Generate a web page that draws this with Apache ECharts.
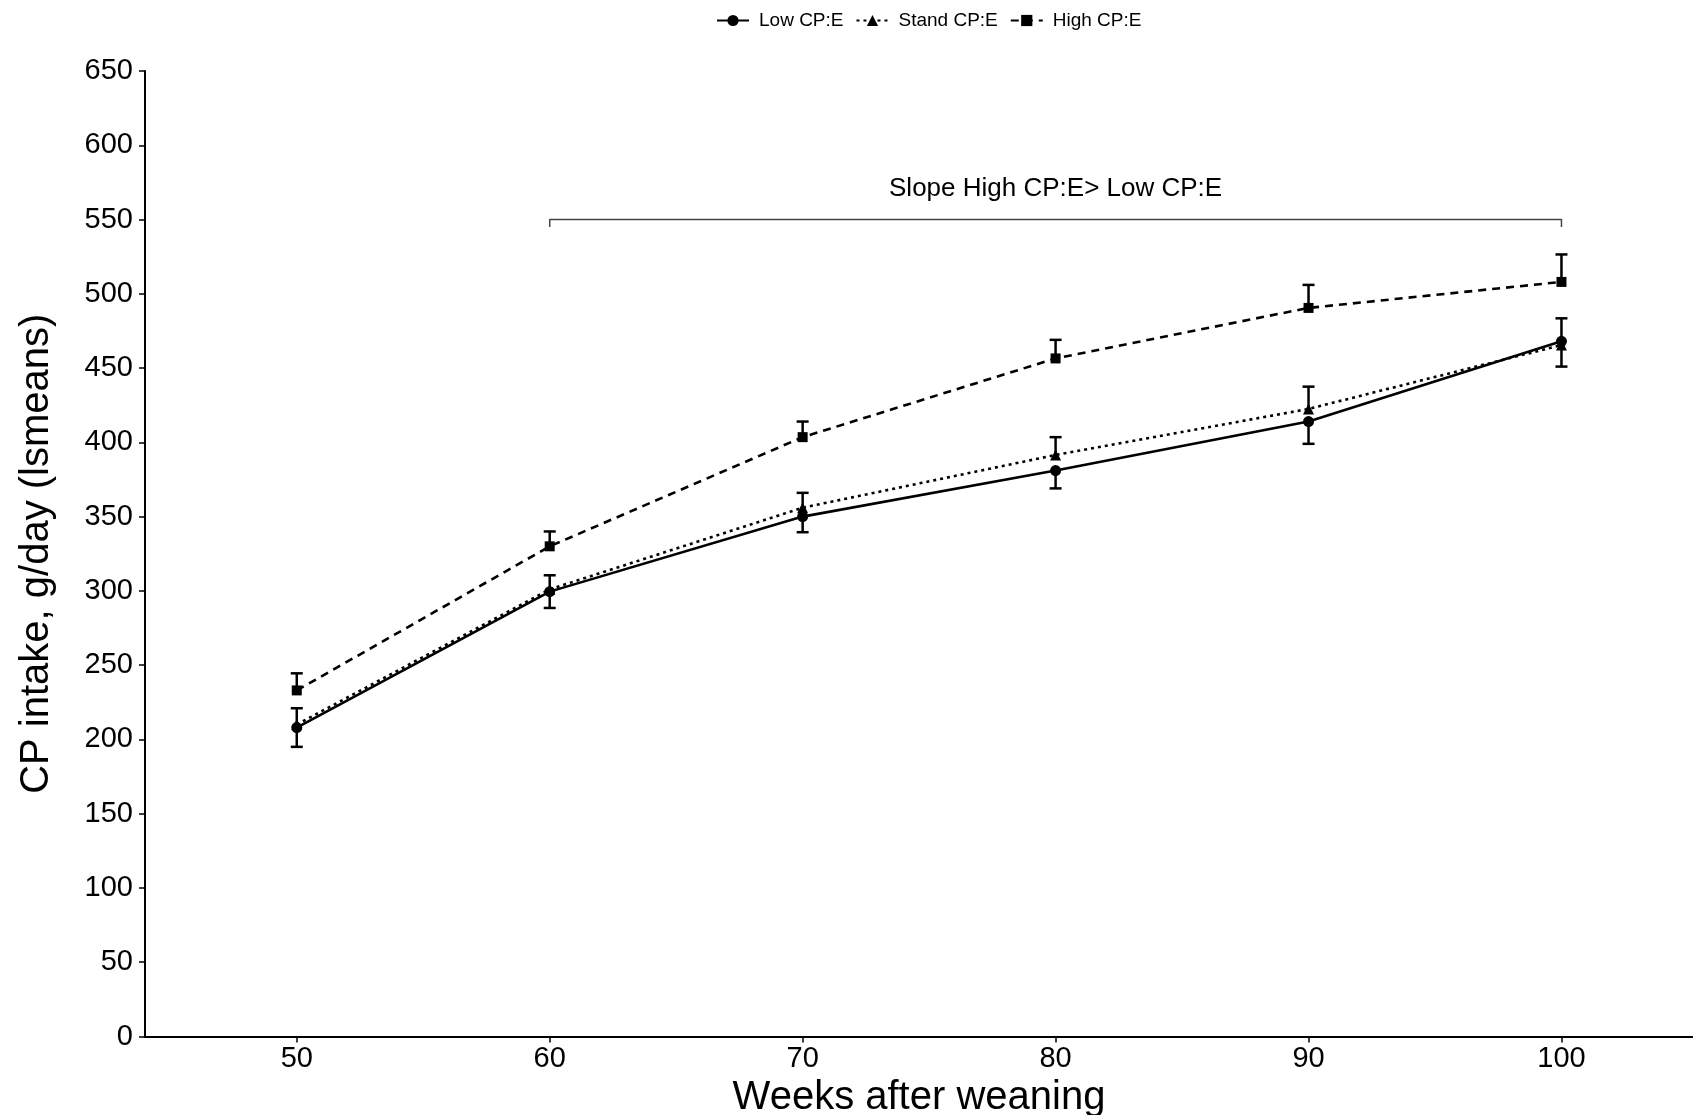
<!DOCTYPE html>
<html lang="en">
<head>
    <meta charset="UTF-8">
    <title>CP intake</title>
    <script src="https://cdn.jsdelivr.net/npm/echarts@6.0.0/dist/echarts.min.js"></script>
    <style>
        html, body { margin: 0; padding: 0; background: #fff; }
        #chart { width: 1693px; height: 1115px; }
    </style>
</head>
<body>
    <div id="chart"></div>
    <script>
        // weeks after weaning
        const weeks = [50, 60, 70, 80, 90, 100]
        const xTicks = [50, 60, 70, 80, 90, 100]

        // lsmeans, g/day
        const lowMean = [208, 299.5, 350, 381, 414, 468]
        const standMean = [210, 301, 356, 391.5, 422.5, 465.5]
        const highMean = [233, 330, 403.5, 456.5, 490.5, 508]

        // standard errors (low drawn downward, stand/high upward)
        const lowSE = [13, 11, 10.5, 12, 15, 17]
        const standSE = [11, 9.5, 10, 12, 15, 18]
        const highSE = [11.5, 10, 10.5, 12.5, 15.5, 18.5]

        // bracket annotation
        const bracketFrom = 60
        const bracketTo = 100
        const bracketY = 550
        const bracketDrop = 5
        const bracketText = 'Slope High CP:E> Low CP:E'

        const chart = echarts.init(document.getElementById('chart'))
        const font = 'Liberation Sans, Arial, sans-serif'

        const pairs = (ys) => weeks.map((w, i) => [w, ys[i]])

        const errorSeries = (name, means, ses, dir) => ({
            name: name + ' se',
            type: 'custom',
            z: 3,
            silent: true,
            data: weeks.map((w, i) => [w, means[i], means[i] + dir * ses[i]]),
            renderItem: (params, api) => {
                const p0 = api.coord([api.value(0), api.value(1)])
                const p1 = api.coord([api.value(0), api.value(2)])
                const cap = 6
                const style = { stroke: '#000', lineWidth: 2.5 }
                return {
                    type: 'group',
                    children: [
                        { type: 'line', shape: { x1: p0[0], y1: p0[1], x2: p1[0], y2: p1[1] }, style: style },
                        { type: 'line', shape: { x1: p1[0] - cap, y1: p1[1], x2: p1[0] + cap, y2: p1[1] }, style: style }
                    ]
                }
            }
        })

        const lineSeries = (name, means, symbol, size, type) => ({
            name: name,
            type: 'line',
            data: pairs(means),
            symbol: symbol,
            symbolSize: size,
            showSymbol: true,
            z: 4,
            color: '#000',
            lineStyle: { color: '#000', width: 2.6, type: type },
            itemStyle: { color: '#000', borderWidth: 0 },
            emphasis: { disabled: true }
        })

        const option = {
            animation: false,
            backgroundColor: '#fff',
            legend: {
                left: 711,
                top: 6,
                itemWidth: 32,
                itemHeight: 14,
                itemGap: 12,
                textStyle: { fontFamily: font, fontSize: 19, color: '#000', padding: [0, 0, 0, 5] },
                data: ['Low CP:E', 'Stand CP:E', 'High CP:E']
            },
            grid: { left: 145, right: 0, top: 71, bottom: 78.5, outerBoundsMode: 'none' },
            xAxis: {
                type: 'value',
                min: 44,
                max: 105.2,
                name: 'Weeks after weaning',
                nameLocation: 'middle',
                nameGap: 40,
                nameTextStyle: { fontFamily: font, fontSize: 40, color: '#000' },
                splitLine: { show: false },
                axisLine: { onZero: false, lineStyle: { color: '#000', width: 2 } },
                axisTick: { customValues: xTicks, length: 6, lineStyle: { color: '#000', width: 1.5 } },
                axisLabel: { customValues: xTicks, fontFamily: font, fontSize: 29, color: '#000', margin: 8 }
            },
            yAxis: {
                type: 'value',
                min: 0,
                max: 650,
                interval: 50,
                name: 'CP intake, g/day (lsmeans)',
                nameLocation: 'middle',
                nameGap: 88,
                nameTextStyle: { fontFamily: font, fontSize: 40, color: '#000' },
                splitLine: { show: false },
                axisLine: { show: true, lineStyle: { color: '#000', width: 2 } },
                axisTick: { show: true, length: 6, lineStyle: { color: '#000', width: 1.5 } },
                axisLabel: { fontFamily: font, fontSize: 29, color: '#000', margin: 12 }
            },
            series: [
                errorSeries('Low CP:E', lowMean, lowSE, -1),
                errorSeries('Stand CP:E', standMean, standSE, 1),
                errorSeries('High CP:E', highMean, highSE, 1),
                lineSeries('Low CP:E', lowMean, 'circle', 11, 'solid'),
                lineSeries('Stand CP:E', standMean, 'triangle', 11, [3, 4]),
                lineSeries('High CP:E', highMean, 'rect', 10, [8, 6]),
                {
                    name: 'bracket',
                    type: 'line',
                    data: [[bracketFrom, bracketY - bracketDrop], [bracketFrom, bracketY], [bracketTo, bracketY], [bracketTo, bracketY - bracketDrop]],
                    symbol: 'none',
                    lineStyle: { color: '#444', width: 1.5 },
                    silent: true
                },
                {
                    name: 'bracketLabel',
                    type: 'scatter',
                    data: [[(bracketFrom + bracketTo) / 2, bracketY]],
                    symbolSize: 0,
                    silent: true,
                    itemStyle: { opacity: 1 },
                    label: {
                        show: true,
                        position: 'top',
                        distance: 18,
                        formatter: bracketText,
                        fontFamily: font,
                        fontSize: 26,
                        color: '#000',
                        opacity: 1
                    }
                }
            ]
        }

        chart.setOption(option)
    </script>
</body>
</html>
